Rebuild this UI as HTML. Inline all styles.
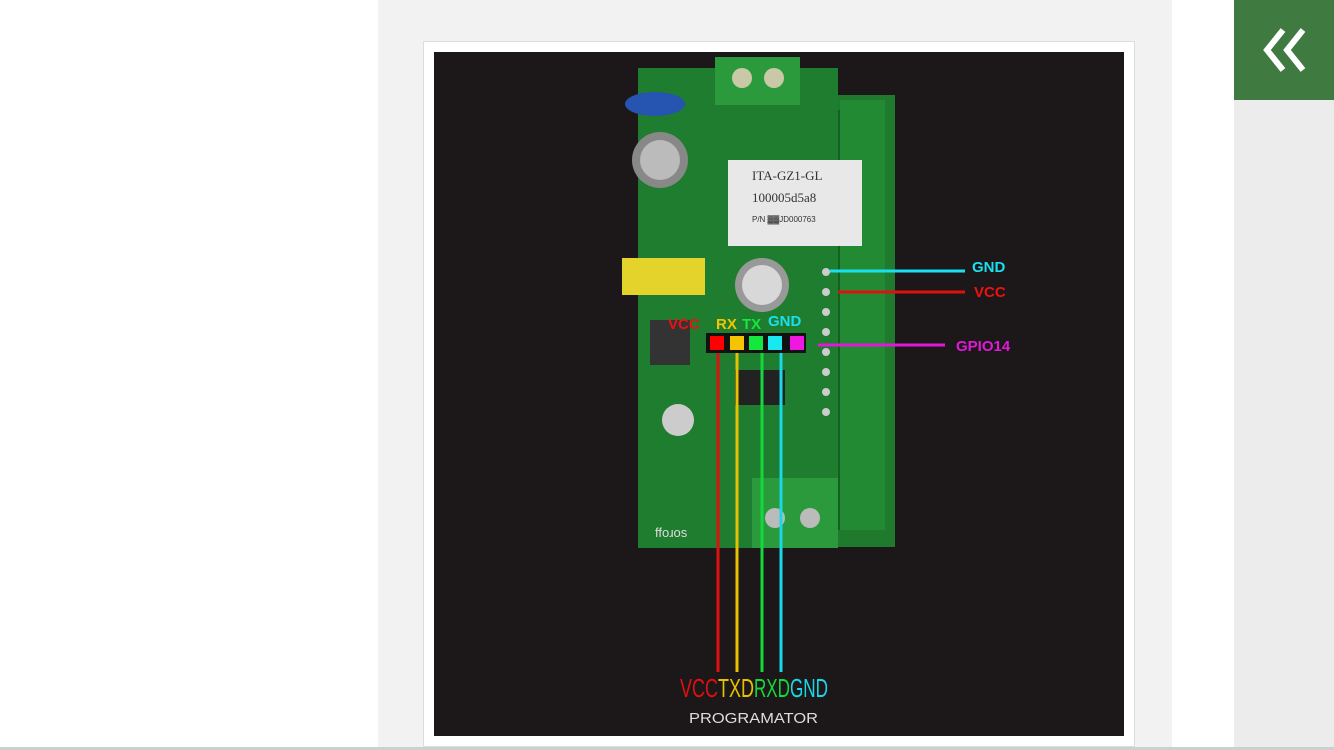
<!DOCTYPE html>
<html><head><style>
html,body{margin:0;padding:0;width:1334px;height:750px;overflow:hidden;background:#fff;font-family:"Liberation Sans",sans-serif}
</style></head><body>
<svg width="1334" height="750" viewBox="0 0 1334 750" style="position:absolute;left:0;top:0">
<rect x="378" y="0" width="794" height="750" fill="#f2f2f2"/>
<rect x="1234" y="0" width="100" height="750" fill="#ececec"/>
<rect x="1234" y="0" width="100" height="100" fill="#3f7b41"/>
<path d="M1283 30 L1267 50 L1283 70 M1303 30 L1287 50 L1303 70" stroke="#fff" stroke-width="6" fill="none"/>
<rect x="423.5" y="41.5" width="711" height="705" fill="#fff" stroke="#ddd"/>
<rect x="434" y="52" width="690" height="684" fill="#1c1819"/>
<rect x="0" y="747" width="1334" height="3" fill="#cfcfcf"/>
<rect x="798" y="95" width="97" height="452" fill="#1f7a2e"/>
<rect x="812" y="110" width="70" height="420" fill="#145f22"/>
<rect x="840" y="100" width="45" height="430" fill="#238a34"/>
<rect x="638" y="68" width="200" height="480" fill="#1e7d2f"/>
<rect x="715" y="57" width="85" height="48" fill="#2a9a3c"/>
<circle cx="742" cy="78" r="10" fill="#c9c9a8"/><circle cx="774" cy="78" r="10" fill="#c9c9a8"/>
<ellipse cx="655" cy="104" rx="30" ry="12" fill="#2555b0"/>
<circle cx="660" cy="160" r="28" fill="#888"/><circle cx="660" cy="160" r="20" fill="#bbb"/>
<rect x="728" y="160" width="134" height="86" fill="#e8e8e8"/>
<text x="752" y="180" font-family="Liberation Serif" font-size="13" fill="#333">ITA-GZ1-GL</text>
<text x="752" y="202" font-family="Liberation Serif" font-size="13" fill="#333">100005d5a8</text>
<text x="752" y="222" font-size="8" fill="#333">P/N  ▓▓JD000763</text>
<rect x="622" y="258" width="83" height="37" fill="#e3d32a"/>
<circle cx="762" cy="285" r="27" fill="#999"/><circle cx="762" cy="285" r="20" fill="#d8d8d8"/>
<rect x="650" y="320" width="40" height="45" fill="#333"/>
<circle cx="678" cy="420" r="16" fill="#ccc"/>
<rect x="735" y="370" width="50" height="35" fill="#222"/>
<rect x="752" y="478" width="86" height="70" fill="#2a9a3c"/>
<circle cx="775" cy="518" r="10" fill="#bbb"/><circle cx="810" cy="518" r="10" fill="#bbb"/>
<g fill="#ccc"><circle cx="826" cy="272" r="4"/><circle cx="826" cy="292" r="4"/><circle cx="826" cy="312" r="4"/><circle cx="826" cy="332" r="4"/><circle cx="826" cy="352" r="4"/><circle cx="826" cy="372" r="4"/><circle cx="826" cy="392" r="4"/><circle cx="826" cy="412" r="4"/></g>
<text x="655" y="537" font-size="13" fill="#ddd">ffoɹos</text>
<rect x="706" y="333" width="100" height="20" fill="#111"/>
<rect x="710" y="336" width="14" height="14" fill="#f00"/>
<rect x="730" y="336" width="14" height="14" fill="#f5c400"/>
<rect x="749" y="336" width="14" height="14" fill="#14e83c"/>
<rect x="768" y="336" width="14" height="14" fill="#19e8f0"/>
<rect x="790" y="336" width="14" height="14" fill="#ee18e0"/>
<g stroke-width="3">
<line x1="718" y1="353" x2="718" y2="672" stroke="#e01010"/>
<line x1="737" y1="353" x2="737" y2="672" stroke="#e8c000"/>
<line x1="762" y1="353" x2="762" y2="672" stroke="#14d83c"/>
<line x1="781" y1="353" x2="781" y2="672" stroke="#19d8e8"/>
<line x1="818" y1="345" x2="945" y2="345" stroke="#e018d8"/>
<line x1="830" y1="271" x2="965" y2="271" stroke="#19e0f0"/>
<line x1="838" y1="292" x2="965" y2="292" stroke="#e01010"/>
</g>
<g font-weight="bold" font-size="15">
<text x="668" y="329" fill="#f01010">VCC</text>
<text x="716" y="329" fill="#f5c400">RX</text>
<text x="742" y="329" fill="#14e83c">TX</text>
<text x="768" y="326" fill="#19e0f0">GND</text>
<text x="956" y="351" fill="#e018d8">GPIO14</text>
<text x="972" y="272" fill="#19e0f0">GND</text>
<text x="974" y="297" fill="#f01010">VCC</text>
</g>
<g font-size="26">
<text x="680" y="697" fill="#e01010" textLength="38" lengthAdjust="spacingAndGlyphs">VCC</text>
<text x="718" y="697" fill="#e8c000" textLength="36" lengthAdjust="spacingAndGlyphs">TXD</text>
<text x="754" y="697" fill="#14d83c" textLength="36" lengthAdjust="spacingAndGlyphs">RXD</text>
<text x="790" y="697" fill="#19d8e8" textLength="38" lengthAdjust="spacingAndGlyphs">GND</text>
</g>
<text x="689" y="723" font-size="15" fill="#ddd" textLength="129" lengthAdjust="spacingAndGlyphs">PROGRAMATOR</text>
</svg>
</body></html>
